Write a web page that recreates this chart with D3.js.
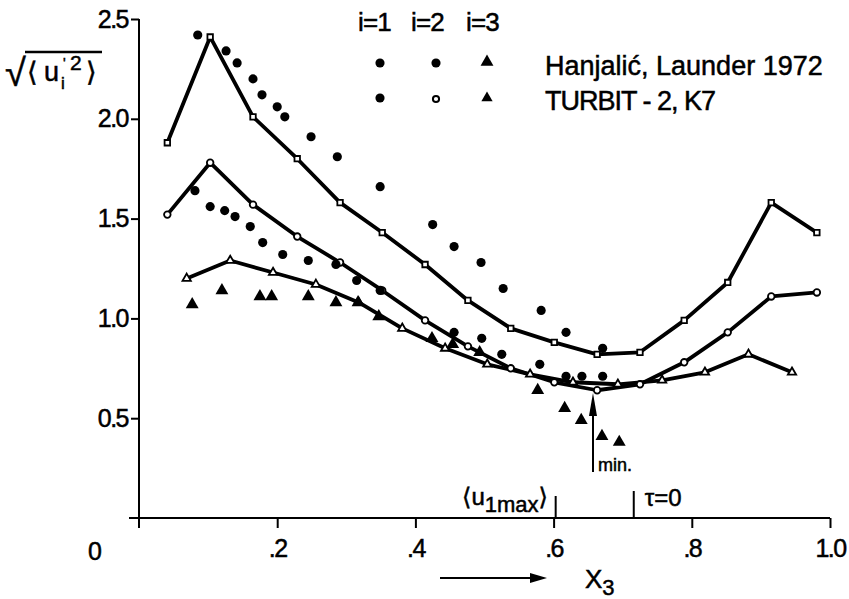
<!DOCTYPE html>
<html>
<head>
<meta charset="utf-8">
<script src="https://cdn.jsdelivr.net/npm/d3@7"></script>
<style>
  body { margin: 0; background: #fff; }
  svg text { font-family: "Liberation Sans", Arial, "DejaVu Sans", sans-serif; fill: #000; stroke: #000; stroke-width: 0.5px; }
</style>
</head>
<body>
<div id="chart"></div>
<script>
// TURBIT-2, K7 profiles (i=1, i=2 share the same grid, i=3 is staggered)
const turbitX12 = [0.041, 0.103, 0.165, 0.229, 0.291, 0.352, 0.414, 0.476, 0.538, 0.601, 0.663, 0.725, 0.789, 0.852, 0.915, 0.981];
const turbitU1 = [1.88, 2.41, 2.01, 1.80, 1.58, 1.43, 1.27, 1.09, 0.95, 0.88, 0.82, 0.83, 0.99, 1.18, 1.58, 1.43];
const turbitU2 = [1.52, 1.78, 1.57, 1.41, 1.28, 1.14, 0.99, 0.86, 0.75, 0.68, 0.64, 0.67, 0.78, 0.93, 1.11, 1.13];
const turbitX3 = [0.069, 0.132, 0.194, 0.256, 0.318, 0.381, 0.443, 0.504, 0.566, 0.628, 0.693, 0.757, 0.819, 0.882, 0.945];
const turbitU3 = [1.20, 1.29, 1.23, 1.17, 1.08, 0.95, 0.85, 0.77, 0.72, 0.68, 0.67, 0.69, 0.73, 0.82, 0.73];

// Hanjalic, Launder 1972 measurements
const hanjX1 = [0.085, 0.126, 0.142, 0.165, 0.178, 0.200, 0.211, 0.249, 0.287, 0.349, 0.425, 0.456, 0.495, 0.527, 0.582, 0.618, 0.671];
const hanjU1 = [2.42, 2.34, 2.28, 2.20, 2.12, 2.06, 2.01, 1.91, 1.81, 1.66, 1.47, 1.36, 1.28, 1.15, 1.04, 0.93, 0.85];
const hanjX2 = [0.081, 0.103, 0.124, 0.139, 0.161, 0.179, 0.208, 0.245, 0.285, 0.315, 0.349, 0.456, 0.496, 0.525, 0.580, 0.618, 0.641, 0.671];
const hanjU2 = [1.64, 1.56, 1.54, 1.51, 1.46, 1.38, 1.32, 1.29, 1.27, 1.19, 1.14, 0.93, 0.90, 0.82, 0.77, 0.71, 0.71, 0.71];
const hanjX3 = [0.077, 0.120, 0.175, 0.192, 0.245, 0.285, 0.317, 0.347, 0.424, 0.454, 0.493, 0.577, 0.616, 0.640, 0.670, 0.695];
const hanjU3 = [1.07, 1.14, 1.11, 1.11, 1.11, 1.08, 1.08, 1.01, 0.90, 0.87, 0.83, 0.64, 0.55, 0.49, 0.41, 0.38];

const xTicks = [0.2, 0.4, 0.6, 0.8, 1.0];
const yTicks = [0.5, 1.0, 1.5, 2.0, 2.5];

// special positions along x3
const uMaxPos = 0.603;
const tauZeroPos = 0.716;
const minPos = 0.657;

const width = 849, height = 599;

const svg = d3.select("#chart")
  .append("svg")
  .attr("width", width)
  .attr("height", height);

const x = d3.scaleLinear().domain([0, 1]).range([139, 830]);
const y = d3.scaleLinear().domain([0, 2.5]).range([518, 19]);

// axes
const yAxis = d3.axisLeft(y)
  .tickValues(yTicks)
  .tickFormat(d3.format(".1f"))
  .tickSize(8)
  .tickPadding(3)
  .tickSizeOuter(0);

const gy = svg.append("g")
  .attr("transform", "translate(" + x(0) + ",0)")
  .call(yAxis)
  .attr("font-size", 25)
  .attr("font-family", null);
gy.select(".domain").remove();
gy.selectAll("line").attr("stroke-width", 2);
gy.selectAll("text").attr("letter-spacing", -1.5);

const xAxis = d3.axisBottom(x)
  .tickValues(xTicks)
  .tickFormat(d => d === 1 ? "1.0" : d3.format(".1f")(d).slice(1))
  .tickSize(10)
  .tickPadding(11)
  .tickSizeOuter(0);

const gx = svg.append("g")
  .attr("transform", "translate(0," + y(0) + ")")
  .call(xAxis)
  .attr("font-size", 25)
  .attr("font-family", null);
gx.select(".domain").remove();
gx.selectAll("line").attr("stroke-width", 2);
gx.selectAll("text").attr("letter-spacing", -1.5);

// axis lines, crossing a little at the origin
svg.append("line")
  .attr("x1", x(0)).attr("x2", x(0))
  .attr("y1", y(0) + 10).attr("y2", y(2.5))
  .attr("stroke", "#000").attr("stroke-width", 2);
svg.append("line")
  .attr("x1", x(0) - 10).attr("x2", x(1))
  .attr("y1", y(0)).attr("y2", y(0))
  .attr("stroke", "#000").attr("stroke-width", 2);

svg.append("text")
  .attr("x", 95).attr("y", 560)
  .attr("font-size", 25)
  .attr("text-anchor", "middle")
  .text("0");

// y axis label: sqrt of <u'_i^2>
const yLab = svg.append("g");
yLab.append("text")
  .attr("x", 5).attr("y", 86)
  .attr("font-size", 38)
  .attr("font-family", "DejaVu Sans, sans-serif")
  .text("√");
yLab.append("line")
  .attr("x1", 25).attr("x2", 102)
  .attr("y1", 52).attr("y2", 52)
  .attr("stroke", "#000").attr("stroke-width", 2.5);
const yLabText = yLab.append("text").attr("font-size", 27);
yLabText.append("tspan").attr("x", 27).attr("y", 81).attr("font-family", "DejaVu Sans, sans-serif").text("⟨");
yLabText.append("tspan").attr("x", 44).attr("y", 81).text("u");
yLabText.append("tspan").attr("x", 63).attr("y", 68).attr("font-size", 14).text("'");
yLabText.append("tspan").attr("x", 61).attr("y", 89).attr("font-size", 17).text("i");
yLabText.append("tspan").attr("x", 70).attr("y", 70).attr("font-size", 21).text("2");
yLabText.append("tspan").attr("x", 86).attr("y", 81).attr("font-family", "DejaVu Sans, sans-serif").text("⟩");

// profile lines
const line = d3.line()
  .x(d => x(d[0]))
  .y(d => y(d[1]));

const turbitSeries = [
  { pts: d3.zip(turbitX12, turbitU1), shape: "square" },
  { pts: d3.zip(turbitX12, turbitU2), shape: "circle" },
  { pts: d3.zip(turbitX3, turbitU3), shape: "triangle" }
];

turbitSeries.forEach(function(s) {
  svg.append("path")
    .attr("d", line(s.pts))
    .attr("fill", "none")
    .attr("stroke", "#000")
    .attr("stroke-width", 3.8)
    .attr("stroke-linejoin", "round");
});

const symbolFor = {
  square: d3.symbol().type(d3.symbolSquare).size(30),
  circle: d3.symbol().type(d3.symbolCircle).size(34),
  triangle: d3.symbol().type(d3.symbolTriangle).size(30)
};

// open markers on the computed profiles
turbitSeries.forEach(function(s) {
  svg.selectAll(null)
    .data(s.pts)
    .enter()
    .append("path")
    .attr("d", symbolFor[s.shape])
    .attr("transform", d => "translate(" + x(d[0]) + "," + y(d[1]) + ")")
    .attr("fill", "#fff")
    .attr("stroke", "#000")
    .attr("stroke-width", 1.8);
});

// filled measurement markers
const dot = d3.symbol().type(d3.symbolCircle).size(66);
const tri = d3.symbol().type(d3.symbolTriangle).size(72);

[[hanjX1, hanjU1, dot], [hanjX2, hanjU2, dot], [hanjX3, hanjU3, tri]].forEach(function(s) {
  svg.selectAll(null)
    .data(d3.zip(s[0], s[1]))
    .enter()
    .append("path")
    .attr("d", s[2])
    .attr("transform", d => "translate(" + x(d[0]) + "," + y(d[1]) + ")")
    .attr("fill", "#000");
});

// legend
const legend = svg.append("g");
[["i=1", 358], ["i=2", 411], ["i=3", 466]].forEach(function(l) {
  legend.append("text")
    .attr("x", l[1]).attr("y", 31)
    .attr("font-size", 26)
    .attr("letter-spacing", -0.8)
    .text(l[0]);
});
legend.append("path").attr("d", dot).attr("transform", "translate(380,63)").attr("fill", "#000");
legend.append("path").attr("d", dot).attr("transform", "translate(436,63)").attr("fill", "#000");
legend.append("path").attr("d", tri).attr("transform", "translate(487,62)").attr("fill", "#000");
legend.append("path").attr("d", dot).attr("transform", "translate(380,98)").attr("fill", "#000");
legend.append("path").attr("d", d3.symbol().type(d3.symbolCircle).size(30))
  .attr("transform", "translate(436,99)")
  .attr("fill", "#fff").attr("stroke", "#000").attr("stroke-width", 2);
legend.append("path").attr("d", d3.symbol().type(d3.symbolTriangle).size(55))
  .attr("transform", "translate(487,98)").attr("fill", "#000");
legend.append("text")
  .attr("x", 545).attr("y", 75)
  .attr("font-size", 27)
  .text("Hanjalić, Launder 1972");
legend.append("text")
  .attr("x", 545).attr("y", 110)
  .attr("font-size", 27)
  .attr("letter-spacing", -1)
  .text("TURBIT - 2, K7");

// location of <u1max>
svg.append("line")
  .attr("x1", x(uMaxPos)).attr("x2", x(uMaxPos))
  .attr("y1", 496).attr("y2", y(0))
  .attr("stroke", "#000").attr("stroke-width", 2);
const uMaxLab = svg.append("text").attr("x", 462).attr("y", 505).attr("font-size", 24);
uMaxLab.append("tspan").attr("font-family", "DejaVu Sans, sans-serif").text("⟨");
uMaxLab.append("tspan").text("u");
uMaxLab.append("tspan").attr("font-size", 22).attr("dy", 7).text("1max");
uMaxLab.append("tspan").attr("dy", -7).attr("font-family", "DejaVu Sans, sans-serif").text("⟩");

// location of zero shear stress
svg.append("line")
  .attr("x1", x(tauZeroPos)).attr("x2", x(tauZeroPos))
  .attr("y1", 491).attr("y2", y(0))
  .attr("stroke", "#000").attr("stroke-width", 2);
svg.append("text")
  .attr("x", x(tauZeroPos) + 11).attr("y", 506)
  .attr("font-size", 24)
  .text("τ=0");

// arrow to the minimum
const mx = x(minPos);
svg.append("line")
  .attr("x1", mx).attr("x2", mx)
  .attr("y1", 472).attr("y2", 410)
  .attr("stroke", "#000").attr("stroke-width", 2);
svg.append("path")
  .attr("d", "M" + mx + ",393 L" + (mx - 4) + ",416 L" + (mx + 4) + ",416 Z")
  .attr("fill", "#000");
svg.append("text")
  .attr("x", mx + 5).attr("y", 471)
  .attr("font-size", 18)
  .text("min.");

// x3 label with direction arrow
svg.append("line")
  .attr("x1", 440).attr("x2", 533)
  .attr("y1", 578).attr("y2", 578)
  .attr("stroke", "#000").attr("stroke-width", 2);
svg.append("path")
  .attr("d", "M530,573 L547,578 L530,583 Z")
  .attr("fill", "#000");
const x3Lab = svg.append("text").attr("x", 585).attr("y", 588).attr("font-size", 26);
x3Lab.append("tspan").text("X");
x3Lab.append("tspan").attr("font-size", 22).attr("dy", 7).text("3");
</script>
</body>
</html>
